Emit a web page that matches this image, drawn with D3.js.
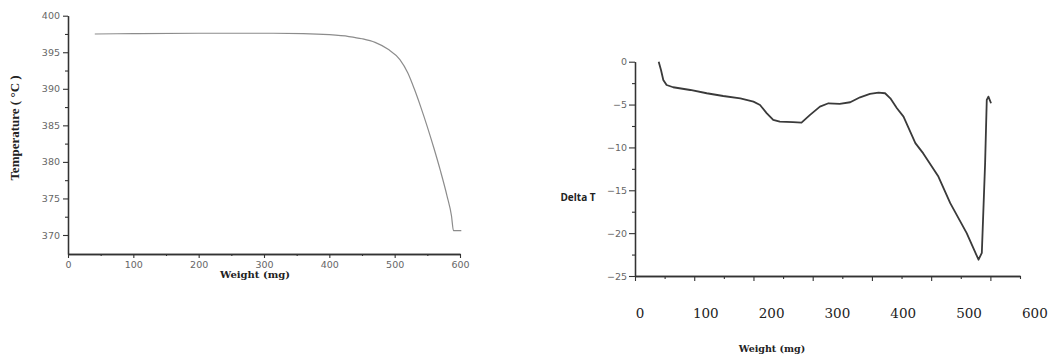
<!DOCTYPE html>
<html>
<head>
<meta charset="utf-8">
<script src="https://cdn.jsdelivr.net/npm/d3@7"></script>
<style>
  body { margin: 0; background: #fff; }
  svg { display: block; }
</style>
</head>
<body>
<svg id="chart"></svg>
<script>
// left panel: temperature vs weight
const weightL = [41, 100, 200, 300, 360, 400, 430, 450, 470, 490, 508, 520, 530, 540, 550, 560, 570, 580, 587, 590, 602];
const tempL = [397.5, 397.55, 397.6, 397.6, 397.55, 397.4, 397.15, 396.85, 396.35, 395.4, 394.0, 392.2, 390.0, 387.5, 384.8, 381.9, 378.8, 375.4, 372.6, 370.6, 370.6];
const xTicksL = [0, 100, 200, 300, 400, 500, 600];
const yTicksL = [370, 375, 380, 385, 390, 395, 400];

// right panel: delta T vs weight
const weightR = [36, 39.5, 43, 48, 58, 84, 109, 134, 160, 180, 190, 200, 210, 220, 240, 253, 266, 281, 294, 311, 327, 342, 357, 370, 380, 388, 398, 408, 426, 438, 461, 479, 504, 522, 527, 532, 534.5, 537, 541];
const deltaT = [0, -0.97, -2.13, -2.72, -2.98, -3.3, -3.68, -4.0, -4.27, -4.66, -5.05, -6.0, -6.8, -7.0, -7.06, -7.1, -6.2, -5.24, -4.85, -4.93, -4.73, -4.15, -3.76, -3.61, -3.68, -4.27, -5.43, -6.41, -9.5, -10.7, -13.4, -16.5, -20.0, -23.1, -22.3, -11.8, -4.46, -4.08, -4.85];
const yTicksR = [-25, -20, -15, -10, -5, 0];
const xLabelsR = [0, 100, 200, 300, 400, 500, 600];

const W = 1049, H = 356;
const svg = d3.select('#chart').attr('width', W).attr('height', H);
svg.append('rect').attr('width', W).attr('height', H).attr('fill', '#fff');

const tickFont = 'DejaVu Sans, sans-serif';

function styleAxis(g) {
  g.select('.domain').attr('stroke', '#333').attr('stroke-width', 1.3);
  g.selectAll('.tick line').attr('stroke', '#333').attr('stroke-width', 1.1);
  g.selectAll('.tick text')
    .attr('fill', '#666')
    .style('font-family', tickFont)
    .style('font-size', '9.5px');
}

// ---- left chart ----
const xL = d3.scaleLinear().domain([0, 600]).range([68, 460]);
const yL = d3.scaleLinear().domain([367.4, 400]).range([254, 15.7]);

const gL = svg.append('g');

gL.append('g')
  .attr('transform', `translate(0,${yL.range()[0]})`)
  .call(d3.axisBottom(xL).tickValues(d3.range(50, 600, 100)).tickSize(2).tickSizeOuter(0).tickFormat(''))
  .call(styleAxis);
gL.append('g')
  .attr('transform', `translate(0,${yL.range()[0]})`)
  .call(d3.axisBottom(xL).tickValues(xTicksL).tickSize(4).tickPadding(3).tickSizeOuter(0))
  .call(styleAxis);

gL.append('g')
  .attr('transform', `translate(${xL.range()[0]},0)`)
  .call(d3.axisLeft(yL).tickValues(d3.range(372.5, 400, 5)).tickSize(3).tickSizeOuter(0).tickFormat(''))
  .call(styleAxis);
gL.append('g')
  .attr('transform', `translate(${xL.range()[0]},0)`)
  .call(d3.axisLeft(yL).tickValues(yTicksL).tickSize(5).tickPadding(3).tickSizeOuter(0))
  .call(styleAxis);

const lineL = d3.line()
  .x((d, i) => xL(weightL[i]))
  .y(d => yL(d))
  .curve(d3.curveMonotoneX);

gL.append('path')
  .datum(tempL)
  .attr('d', lineL)
  .attr('fill', 'none')
  .attr('stroke', '#8c8c8c')
  .attr('stroke-width', 1.2);

gL.append('text')
  .attr('x', 255)
  .attr('y', 278)
  .attr('text-anchor', 'middle')
  .style('font-family', 'DejaVu Serif, serif')
  .style('font-weight', 'bold')
  .style('font-size', '10px')
  .attr('fill', '#222')
  .text('Weight (mg)');

gL.append('text')
  .attr('transform', 'translate(19,128) rotate(-90)')
  .attr('text-anchor', 'middle')
  .style('font-family', 'Liberation Serif, serif')
  .style('font-weight', 'bold')
  .style('font-size', '13px')
  .attr('fill', '#222')
  .text('Temperature ( °C )');

// ---- right chart ----
const xR = d3.scaleLinear().domain([0, 585]).range([635, 1020]);
const yR = d3.scaleLinear().domain([-25, 0]).range([276, 61.7]);

const gR = svg.append('g');

gR.append('g')
  .attr('transform', `translate(0,${yR.range()[0]})`)
  .call(d3.axisBottom(xR).tickValues(d3.range(45, 586, 90)).tickSize(3).tickSizeOuter(0).tickFormat(''))
  .call(styleAxis);
gR.append('g')
  .attr('transform', `translate(0,${yR.range()[0]})`)
  .call(d3.axisBottom(xR).tickValues(d3.range(0, 586, 90)).tickSize(5).tickSizeOuter(0).tickFormat(''))
  .call(styleAxis);

gR.append('g')
  .attr('transform', `translate(${xR.range()[0]},0)`)
  .call(d3.axisLeft(yR).tickValues(d3.range(-22.5, 0, 5)).tickSize(3).tickSizeOuter(0).tickFormat(''))
  .call(styleAxis);
gR.append('g')
  .attr('transform', `translate(${xR.range()[0]},0)`)
  .call(d3.axisLeft(yR).tickValues(yTicksR).tickSize(6).tickPadding(2).tickSizeOuter(0))
  .call(styleAxis);

gR.selectAll('text.xlab')
  .data(xLabelsR)
  .enter().append('text')
  .attr('class', 'xlab')
  .attr('x', d => xR(d) + 5)
  .attr('y', 318)
  .attr('text-anchor', 'middle')
  .style('font-family', 'DejaVu Serif, serif')
  .style('font-size', '13.5px')
  .attr('fill', '#222')
  .text(d => d);

const lineR = d3.line()
  .x((d, i) => xR(weightR[i]))
  .y(d => yR(d));

gR.append('path')
  .datum(deltaT)
  .attr('d', lineR)
  .attr('fill', 'none')
  .attr('stroke', '#3a3a3a')
  .attr('stroke-width', 1.8)
  .attr('stroke-linejoin', 'round');

gR.append('text')
  .attr('x', 578)
  .attr('y', 201)
  .attr('text-anchor', 'middle')
  .style('font-family', 'Open Sans, sans-serif')
  .style('font-weight', 'bold')
  .style('font-size', '10px')
  .attr('fill', '#222')
  .text('Delta T');

gR.append('text')
  .attr('x', 772)
  .attr('y', 352)
  .attr('text-anchor', 'middle')
  .style('font-family', 'DejaVu Serif, serif')
  .style('font-weight', 'bold')
  .style('font-size', '9.5px')
  .attr('fill', '#222')
  .text('Weight (mg)');
</script>
</body>
</html>
